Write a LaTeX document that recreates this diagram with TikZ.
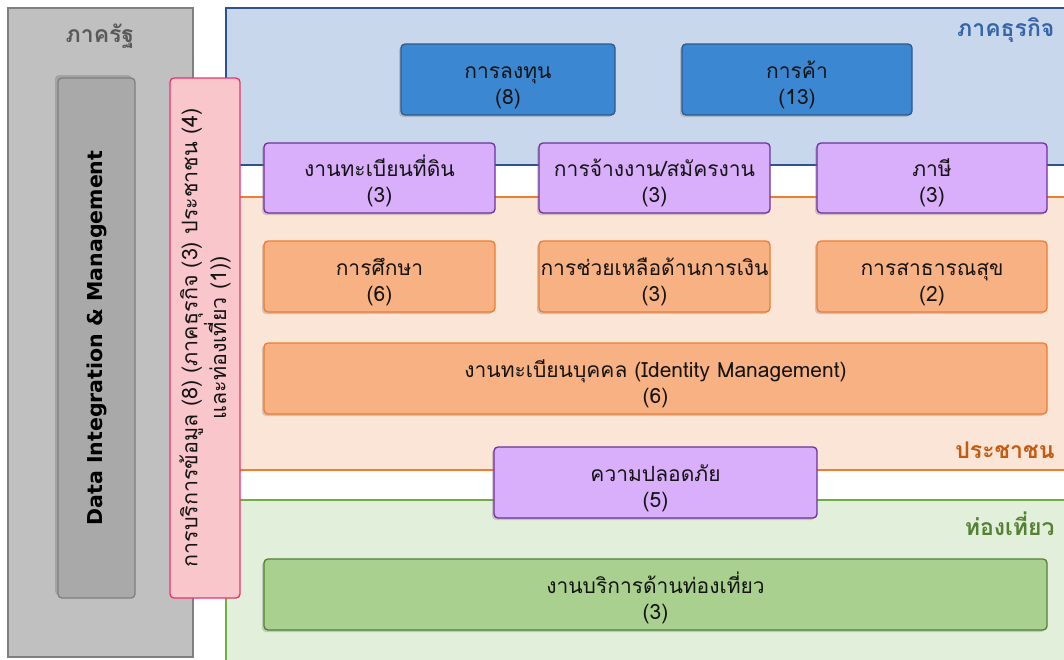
\documentclass[tikz,border=0pt]{standalone}
\usepackage{fontspec}
\setmainfont{DejaVu Sans}
\newfontfamily\thf[Script=Thai]{Loma}
\usetikzlibrary{shadows}
\definecolor{gregion}{HTML}{C0C0C0}
\definecolor{gborder}{HTML}{7F7F7F}
\definecolor{gdark}{HTML}{A9A9A9}
\definecolor{gtext}{HTML}{595959}
\definecolor{bregion}{HTML}{C8D7EC}
\definecolor{bborder}{HTML}{2F528F}
\definecolor{btext}{HTML}{3565A8}
\definecolor{bbox}{HTML}{3B87D2}
\definecolor{bboxb}{HTML}{2D5A8E}
\definecolor{oregion}{HTML}{FBE5D6}
\definecolor{oborder}{HTML}{ED7D31}
\definecolor{otext}{HTML}{C55A11}
\definecolor{obox}{HTML}{F8B183}
\definecolor{vregion}{HTML}{E2EFDA}
\definecolor{vborder}{HTML}{70AD47}
\definecolor{vtext}{HTML}{548235}
\definecolor{vbox}{HTML}{A9D08E}
\definecolor{vboxb}{HTML}{538135}
\definecolor{pbox}{HTML}{D9AEFA}
\definecolor{pboxb}{HTML}{7030A0}
\definecolor{pink}{HTML}{F9C6CB}
\definecolor{pinkb}{HTML}{E8336E}
\definecolor{txt}{HTML}{141414}
\tikzset{
  region/.style={line width=1.6pt},
  card/.style={rounded corners=4pt, line width=1.3pt, align=center, text=txt,
    font=\thf\fontsize{21}{26}\selectfont, inner sep=0pt,
    text height=49pt, text depth=0pt,
    drop shadow={opacity=0.35, shadow xshift=-2pt, shadow yshift=-2pt}},
  bluecard/.style={card, fill=bbox, draw=bboxb, minimum height=71pt},
  violetcard/.style={card, fill=pbox, draw=pboxb, minimum height=70pt},
  orangecard/.style={card, fill=obox, draw=oborder, minimum height=71pt},
  greencard/.style={card, fill=vbox, draw=vboxb, minimum height=71pt},
  rlabel/.style={font=\thf\bfseries\fontsize{23}{26}\selectfont, anchor=east},
}
\begin{document}
\begin{tikzpicture}[x=1pt,y=-1pt]
\useasboundingbox (0,0) rectangle (1064,659);
\fill[white] (0,0) rectangle (1064,659);
% regions
\draw[region, fill=gregion, draw=gborder] (8,8) rectangle (193,657);
\node[font=\thf\bfseries\fontsize{23}{26}\selectfont, text=gtext] (gtitle) at (100,36) {ภาครัฐ};
\draw[region, fill=bregion, draw=bborder] (226,8) rectangle (1075,165);
\draw[region, fill=oregion, draw=oborder] (226,197) rectangle (1075,470);
\draw[region, fill=vregion, draw=vborder] (226,500) rectangle (1075,665);
\node[rlabel, text=btext] (blabel) at (1058,30) {ภาคธุรกิจ};
\node[rlabel, text=otext] (olabel) at (1058,450) {ประชาชน};
\node[rlabel, text=vtext] (vlabel) at (1058,524) {ท่องเที่ยว};
% left column
\node[rounded corners=4pt, line width=1.3pt, fill=gdark, draw=gborder, minimum width=77pt, minimum height=520pt,
  drop shadow={opacity=0.45, shadow xshift=-3pt, shadow yshift=3pt}] (dim) at (96.5,338) {};
\node[rotate=90, font=\bfseries\fontsize{20.5}{24}\selectfont, text=black] (dimt) at (dim.center) {Data Integration \& Management};
\node[rounded corners=4pt, line width=1.3pt, fill=pink, draw=pinkb, minimum width=70pt, minimum height=520pt] (svc) at (205,338) {};
\node[rotate=90, align=center, font=\thf\fontsize{21.5}{25}\selectfont, text=txt] (svct) at (svc.center)
  {การบริการข้อมูล (8) (ภาคธุรกิจ (3) ประชาชน (4)\\และท่องเที่ยว (1))};
% business
\node[bluecard, minimum width=214pt] (inv) at (508,79.5) {การลงทุน\\(8)};
\node[bluecard, minimum width=230pt] (trade) at (797,79.5) {การค้า\\(13)};
\node[violetcard, minimum width=231pt] (land) at (379.5,178) {งานทะเบียนที่ดิน\\(3)};
\node[violetcard, minimum width=231pt] (job) at (654.5,178) {การจ้างงาน/สมัครงาน\\(3)};
\node[violetcard, minimum width=230pt] (tax) at (932,178) {ภาษี\\(3)};
% people
\node[orangecard, minimum width=231pt] (edu) at (379.5,276.5) {การศึกษา\\(6)};
\node[orangecard, minimum width=231pt] (fin) at (654.5,276.5) {การช่วยเหลือด้านการเงิน\\(3)};
\node[orangecard, minimum width=230pt] (health) at (932,276.5) {การสาธารณสุข\\(2)};
\node[orangecard, minimum width=783pt] (idm) at (655.5,378.5) {งานทะเบียนบุคคล (Identity Management)\\(6)};
\node[violetcard, minimum width=323pt, minimum height=71pt] (safe) at (655.5,482.5) {ความปลอดภัย\\(5)};
% tourism
\node[greencard, minimum width=783pt] (tour) at (655.5,594.5) {งานบริการด้านท่องเที่ยว\\(3)};
\end{tikzpicture}
\end{document}
